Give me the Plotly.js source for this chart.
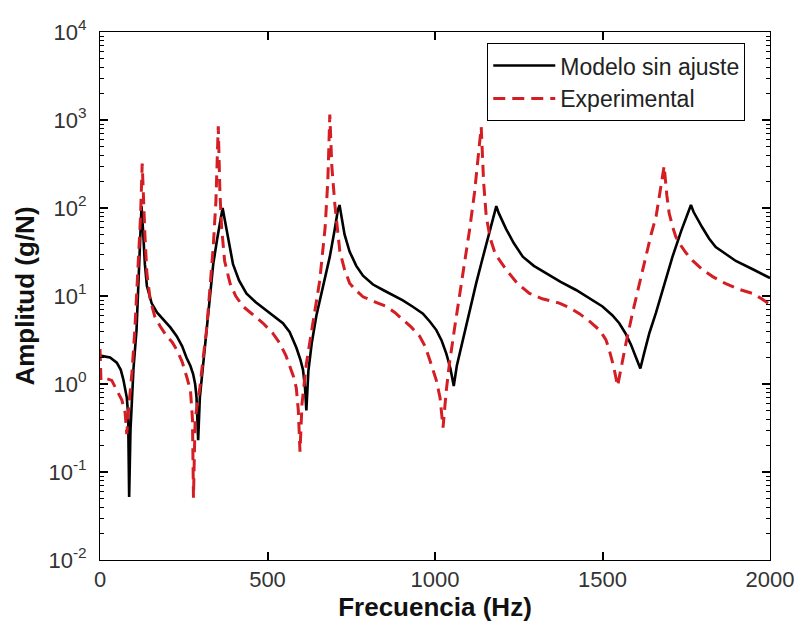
<!DOCTYPE html>
<html>
<head>
<meta charset="utf-8">
<script src="https://cdn.plot.ly/plotly-3.0.1.min.js"></script>
<style>html,body{margin:0;padding:0;background:#fff;}#plot{width:802px;height:626px;}</style>
</head>
<body>
<div id="plot"></div>
<script>
// Modelo sin ajuste (black solid)
const modelFreq = [0, 30, 50, 62, 70, 76, 80, 84, 87, 91, 100, 109, 116, 120, 124, 128, 134, 140, 154, 170, 189, 210, 229, 245, 258, 270, 278, 284, 288, 293, 298, 308, 320, 330, 338, 350, 360, 366, 372, 378, 388, 397, 415, 437, 465, 497, 520, 546, 566, 586, 598, 606, 612, 616, 622, 632, 646, 665, 686, 700, 710, 715, 722, 730, 745, 765, 785, 815, 845, 875, 904, 935, 964, 985, 1004, 1020, 1034, 1046, 1056, 1065, 1083, 1103, 1123, 1140, 1158, 1172, 1183, 1190, 1200, 1212, 1235, 1262, 1295, 1332, 1375, 1421, 1460, 1500, 1530, 1550, 1568, 1585, 1600, 1613, 1625, 1640, 1660, 1685, 1709, 1735, 1755, 1764, 1772, 1785, 1798, 1818, 1838, 1868, 1898, 1950, 2000];
const modelAmp  = [2.1, 2.0, 1.75, 1.45, 1.11, 0.85, 0.7, 0.45, 0.052, 0.3, 1.5, 4.1, 20, 45, 105, 60, 23, 13, 8.3, 6.5, 5.4, 4.4, 3.5, 2.7, 2.0, 1.6, 1.3, 1.0, 0.72, 0.23, 0.7, 1.7, 5, 11, 23, 45, 80, 100, 75, 56, 35, 23, 15, 10.7, 8.5, 6.9, 5.9, 4.9, 3.9, 2.6, 1.9, 1.45, 0.9, 0.5, 1.4, 2.9, 6, 13, 28, 55, 95, 108, 75, 50, 32, 22, 17, 13.5, 11.7, 10.2, 8.9, 7.5, 6.3, 5.1, 4.1, 3.1, 2.2, 1.5, 0.95, 1.6, 3.2, 7, 14, 25, 47, 75, 105, 88, 72, 58, 40, 28, 22, 18, 14.5, 11.7, 9.5, 7.6, 6, 4.9, 3.8, 2.8, 2.0, 1.5, 2.3, 3.8, 6.5, 14, 28, 55, 90, 108, 90, 72, 60, 45, 36, 30, 25, 20, 16];

// Experimental (red dashed)
const expFreq = [0, 3, 20, 35, 50, 65, 75, 80, 85, 95, 104, 115, 121, 126, 130, 134, 140, 150, 164, 180, 199, 215, 229, 245, 259, 270, 276, 279, 284, 298, 308, 318, 328, 338, 346, 353, 358, 363, 372, 388, 405, 427, 455, 487, 515, 537, 555, 566, 578, 586, 592, 597, 603, 616, 635, 656, 672, 680, 686, 692, 701, 716, 730, 745, 765, 785, 820, 855, 880, 904, 930, 954, 970, 984, 996, 1004, 1015, 1024, 1033, 1043, 1058, 1073, 1090, 1103, 1118, 1130, 1138, 1145, 1153, 1165, 1180, 1212, 1245, 1282, 1320, 1371, 1400, 1431, 1460, 1491, 1510, 1520, 1533, 1545, 1555, 1570, 1590, 1620, 1645, 1660, 1675, 1684, 1692, 1699, 1710, 1719, 1735, 1749, 1770, 1798, 1830, 1868, 1905, 1948, 1975, 2000];
const expAmp  = [2.5, 1.1, 1.15, 1.1, 0.85, 0.66, 0.47, 0.27, 0.5, 1.3, 4.1, 23, 80, 320, 120, 50, 18, 9, 5.8, 4.5, 3.5, 3.0, 2.45, 1.8, 1.2, 0.85, 0.4, 0.051, 0.4, 0.9, 2, 4.1, 12, 36, 120, 850, 150, 60, 25, 14, 10, 7.6, 6.2, 4.9, 3.8, 2.9, 2.1, 1.6, 1.2, 0.9, 0.5, 0.17, 0.6, 1.7, 5, 15, 60, 200, 1150, 300, 110, 32, 20, 14, 11.5, 9.8, 8.6, 7.6, 6.5, 5.4, 4.4, 3.5, 2.7, 1.9, 1.4, 1.1, 0.7, 0.32, 0.8, 1.7, 4.2, 9.8, 25, 56, 150, 400, 830, 200, 80, 45, 30, 20, 14, 10.7, 9.3, 8.3, 7.4, 6.3, 5.2, 4.1, 3.2, 2.45, 1.6, 0.95, 1.5, 2.9, 6.5, 20, 50, 80, 180, 300, 140, 87, 60, 47, 37, 31, 25, 20, 16.5, 13.8, 12, 10.7, 9.3, 8.0];

const seriesNames = ["Modelo sin ajuste", "Experimental"];
const xTickVals = [0, 500, 1000, 1500, 2000];
const yTickVals = [0.01, 0.1, 1, 10, 100, 1000, 10000];
const yTickText = ["10<sup>-2</sup>", "10<sup>-1</sup>", "10<sup>0</sup>", "10<sup>1</sup>", "10<sup>2</sup>", "10<sup>3</sup>", "10<sup>4</sup>"];

const FONT = "Liberation Sans, Arial, Helvetica, sans-serif";

const traces = [
  {x: modelFreq, y: modelAmp, type: "scatter", mode: "lines", name: seriesNames[0],
   line: {color: "#000000", width: 2.6}},
  {x: expFreq, y: expAmp, type: "scatter", mode: "lines", name: seriesNames[1],
   line: {color: "rgb(212,30,35)", width: 3, dash: "12px,7px"}}
];

const layout = {
  width: 802, height: 626,
  margin: {l: 100, r: 32, t: 32, b: 66},
  paper_bgcolor: "#ffffff", plot_bgcolor: "#ffffff",
  font: {family: FONT, color: "#222"},
  showlegend: true,
  legend: {x: 0.578, y: 0.979, xanchor: "left", yanchor: "top",
           bgcolor: "#ffffff", bordercolor: "#000", borderwidth: 1,
           font: {size: 23, family: FONT, color: "#222"}, itemwidth: 62,
           tracegroupgap: 0},
  xaxis: {range: [0, 2000], tickvals: xTickVals, ticktext: xTickVals.map(String),
          ticks: "inside", ticklen: 8, tickcolor: "#000", tickwidth: 1.5,
          showline: true, linecolor: "#000", mirror: "ticks",
          showgrid: false, zeroline: false,
          tickfont: {size: 22, family: FONT, color: "#333"},
          title: {text: "<b>Frecuencia (Hz)</b>", font: {size: 26, family: FONT, color: "#111"}, standoff: 0}},
  yaxis: {type: "log", range: [-2, 4], tickvals: yTickVals, ticktext: yTickText,
          ticks: "inside", ticklen: 8, tickcolor: "#000", tickwidth: 1.5,
          minor: {ticks: "inside", ticklen: 4, tickcolor: "#000", tickwidth: 1.2, dtick: "D1", showgrid: false},
          showline: true, linecolor: "#000", mirror: "ticks",
          showgrid: false, zeroline: false,
          tickfont: {size: 22, family: FONT, color: "#333"}, ticklabelstandoff: 8,
          title: {text: "<b>Amplitud (g/N)</b>", font: {size: 26, family: FONT, color: "#111"}, standoff: 6}}
};

Plotly.newPlot("plot", traces, layout, {displayModeBar: false});
</script>
</body>
</html>
